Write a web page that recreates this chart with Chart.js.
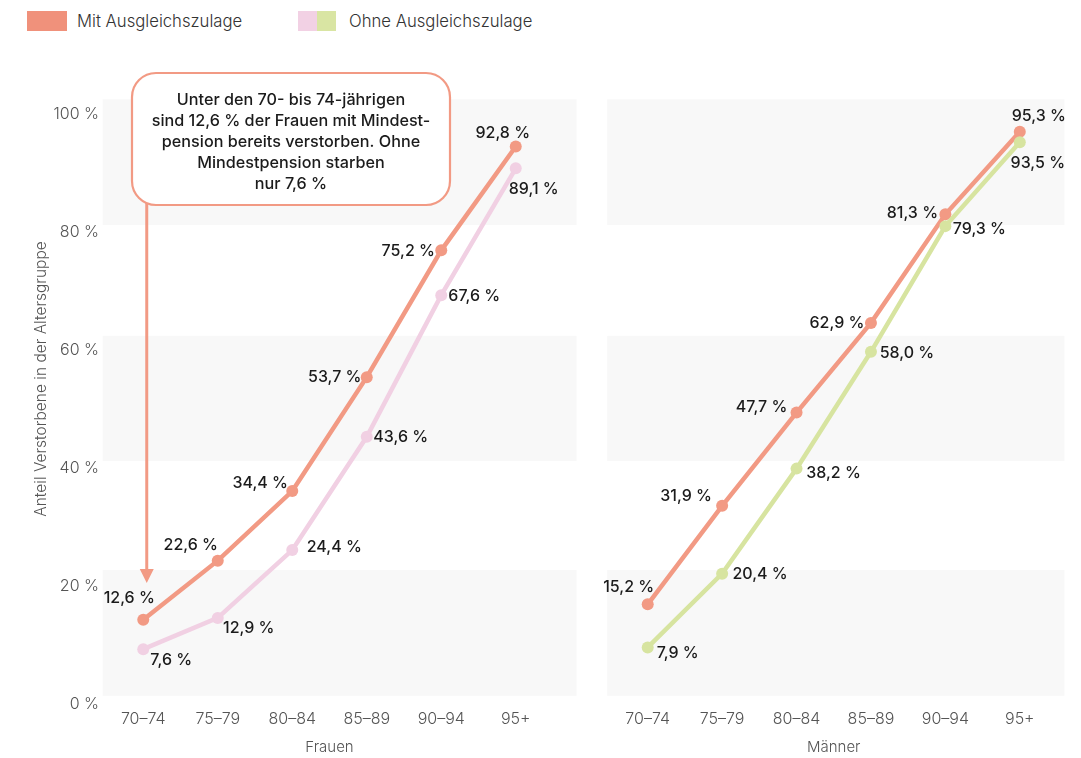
<!DOCTYPE html>
<html lang="de">
<head>
<meta charset="utf-8">
<title>Anteil Verstorbene</title>
<script src="https://cdn.jsdelivr.net/npm/chart.js@4.4.1/dist/chart.umd.min.js"></script>
<style>
  body { margin: 0; background: #fff; width: 1081px; height: 758px; overflow: hidden; position: relative; font-family: Inter, sans-serif; }
  .swatch { position: absolute; top: 11px; height: 20px; }
  .legendText { position: absolute; top: 10px; font-size: 16.7px; line-height: 22px; color: #333; font-weight: 300; }
  canvas { position: absolute; top: 0; }
</style>
</head>
<body>
<div class="swatch" style="left:27px;width:40px;background:#f0917b"></div>
<div class="legendText" style="left:77px" id="legendMit"></div>
<div class="swatch" style="left:298px;width:19px;background:#f2d1e4"></div>
<div class="swatch" style="left:317px;width:19px;background:#d9e5a3"></div>
<div class="legendText" style="left:349px" id="legendOhne"></div>
<canvas id="frauen" width="580" height="758" style="left:0;width:580px;height:758px"></canvas>
<canvas id="maenner" width="491" height="758" style="left:590px;width:491px;height:758px"></canvas>
<script>
'use strict';

// data
let ageGroups = ['70–74', '75–79', '80–84', '85–89', '90–94', '95+'];
let frauenMit = [12.6, 22.6, 34.4, 53.7, 75.2, 92.8];
let frauenOhne = [7.6, 12.9, 24.4, 43.6, 67.6, 89.1];
let maennerMit = [15.2, 31.9, 47.7, 62.9, 81.3, 95.3];
let maennerOhne = [7.9, 20.4, 38.2, 58.0, 79.3, 93.5];
let yTicks = [0, 20, 40, 60, 80, 100];
let seriesNames = ['Mit Ausgleichszulage', 'Ohne Ausgleichszulage'];
let panelNames = ['Frauen', 'Männer'];
let yTitle = 'Anteil Verstorbene in der Altersgruppe';
let noteLines = [
  'Unter den 70- bis 74-jährigen',
  'sind 12,6 % der Frauen mit Mindest-',
  'pension bereits verstorben. Ohne',
  'Mindestpension starben',
  'nur 7,6 %'
];

// colours
let orange = '#f29a84';
let pink = '#f1d0e3';
let green = '#d7e4a0';
let bandColour = '#f8f8f8';
let tickColour = '#555';
let fontName = 'Inter';

// where each value label sits next to its point (dx, dy in px)
let frauenMitPlace = [[-14, -21], [-27, -15], [-32, -8], [-32, 0], [-33, 1], [-13, -13]];
let frauenOhnePlace = [[28, 11], [31, 10], [42, -3], [34, 0], [33, 1], [18, 21]];
let maennerMitPlace = [[-19, -17], [-36, -10], [-35, -5], [-34, 0], [-33, -1], [19, -16]];
let maennerOhnePlace = [[30, 6], [38, 1], [37, 5], [36, 1], [34, 3], [18, 21]];

document.getElementById('legendMit').textContent = seriesNames[0];
document.getElementById('legendOhne').textContent = seriesNames[1];

function formatPercent(v) {
  return v.toFixed(1).replace('.', ',') + ' %';
}

// light grey bands behind the lines
let bandPlugin = {
  id: 'bands',
  beforeDatasetsDraw(chart, args, opts) {
    let ctx = chart.ctx;
    let x0 = chart.scales.x.getPixelForValue(opts.from);
    let x1 = chart.scales.x.getPixelForValue(opts.to);
    ctx.save();
    ctx.fillStyle = bandColour;
    opts.bands.forEach(function (b) {
      let top = chart.scales.y.getPixelForValue(b[1]);
      let bottom = chart.scales.y.getPixelForValue(b[0]);
      ctx.fillRect(x0, top, x1 - x0, bottom - top);
    });
    ctx.restore();
  }
};

// value labels next to the points
let valueLabelPlugin = {
  id: 'valueLabels',
  afterDatasetsDraw(chart, args, opts) {
    let ctx = chart.ctx;
    ctx.save();
    ctx.font = '500 16px ' + fontName;
    ctx.fillStyle = '#1b1b1b';
    ctx.textAlign = 'center';
    ctx.textBaseline = 'middle';
    chart.data.datasets.forEach(function (ds, i) {
      let meta = chart.getDatasetMeta(i);
      meta.data.forEach(function (pt, j) {
        let place = opts.places[i][j];
        ctx.fillText(formatPercent(ds.data[j]), pt.x + place[0], pt.y + place[1]);
      });
    });
    ctx.restore();
  }
};

// y title and the callout box on the Frauen panel
let notePlugin = {
  id: 'note',
  afterDraw(chart, args, opts) {
    if (!opts.show) return;
    let ctx = chart.ctx;
    ctx.save();

    ctx.translate(41, 379);
    ctx.rotate(-Math.PI / 2);
    ctx.font = '300 15.5px ' + fontName;
    ctx.fillStyle = tickColour;
    ctx.textAlign = 'center';
    ctx.textBaseline = 'middle';
    ctx.fillText(yTitle, 0, 0);
    ctx.setTransform(1, 0, 0, 1, 0, 0);

    // arrow down to the first point
    let ax = chart.scales.x.getPixelForValue(0) + 3.5;
    let tip = chart.scales.y.getPixelForValue(18.8);
    ctx.strokeStyle = orange;
    ctx.lineWidth = 3;
    ctx.beginPath();
    ctx.moveTo(ax, 200);
    ctx.lineTo(ax, tip - 10);
    ctx.stroke();
    ctx.fillStyle = orange;
    ctx.beginPath();
    ctx.moveTo(ax - 7, tip - 14);
    ctx.lineTo(ax + 7, tip - 14);
    ctx.lineTo(ax, tip);
    ctx.closePath();
    ctx.fill();

    // box
    ctx.beginPath();
    ctx.roundRect(132, 73, 318, 132, 24);
    ctx.fillStyle = '#fff';
    ctx.fill();
    ctx.lineWidth = 2.2;
    ctx.strokeStyle = orange;
    ctx.stroke();

    ctx.font = '500 16.2px ' + fontName;
    ctx.fillStyle = '#1b1b1b';
    ctx.textAlign = 'center';
    ctx.textBaseline = 'middle';
    for (let i = 0; i < noteLines.length; i++) {
      ctx.fillText(noteLines[i], 291, 100 + i * 21);
    }
    ctx.restore();
  }
};

function makePanel(canvasId, mitValues, ohneValues, ohneColour, places, showY, xTitle, bandTo, padding) {
  let ctx = document.getElementById(canvasId).getContext('2d');
  return new Chart(ctx, {
    type: 'line',
    data: {
      labels: ageGroups,
      datasets: [{
        label: seriesNames[1],
        data: ohneValues,
        borderColor: ohneColour,
        backgroundColor: ohneColour,
        borderWidth: 4.5,
        pointRadius: 6,
        pointHoverRadius: 6,
        pointBorderWidth: 0,
        tension: 0
      }, {
        label: seriesNames[0],
        data: mitValues,
        borderColor: orange,
        backgroundColor: orange,
        borderWidth: 4.5,
        pointRadius: 6,
        pointHoverRadius: 6,
        pointBorderWidth: 0,
        tension: 0
      }]
    },
    options: {
      responsive: false,
      animation: false,
      layout: { padding: padding },
      plugins: {
        legend: { display: false },
        tooltip: { enabled: false },
        bands: { from: -0.545, to: bandTo, bands: [[-0.3, 21.0], [39.5, 60.7], [79.5, 100.8]] },
        valueLabels: { places: [places[1], places[0]] },
        note: { show: showY }
      },
      scales: {
        x: {
          offset: true,
          grid: { display: false, drawTicks: false },
          border: { display: false },
          ticks: {
            color: tickColour,
            font: { family: fontName, size: 16, weight: '300' },
            padding: 16,
            maxRotation: 0,
            autoSkip: false
          },
          title: {
            display: true,
            text: xTitle,
            color: tickColour,
            font: { family: fontName, size: 15, weight: '300' },
            padding: { top: 0, bottom: 2 }
          },
          afterFit: function (scale) { scale.height = 64; }
        },
        y: {
          display: showY,
          min: 0,
          max: 100,
          grid: { display: false, drawTicks: false },
          border: { display: false },
          afterBuildTicks: function (scale) {
            scale.ticks = yTicks.map(function (v) { return { value: v }; });
          },
          ticks: {
            color: tickColour,
            font: { family: fontName, size: 16, weight: '300' },
            padding: 7,
            labelOffset: 10.5,
            callback: function (v) { return v + ' %'; }
          },
          afterFit: function (scale) { if (showY) scale.width = 106; }
        }
      }
    },
    plugins: [bandPlugin, valueLabelPlugin, notePlugin]
  });
}

makePanel('frauen', frauenMit, frauenOhne, pink, [frauenMitPlace, frauenOhnePlace], true, panelNames[0], 5.817,
  { top: 104, right: 27, bottom: 0, left: 0 });
makePanel('maenner', maennerMit, maennerOhne, green, [maennerMitPlace, maennerOhnePlace], false, panelNames[1], 5.60,
  { top: 104, right: 24, bottom: 0, left: 20.5 });
</script>
</body>
</html>
